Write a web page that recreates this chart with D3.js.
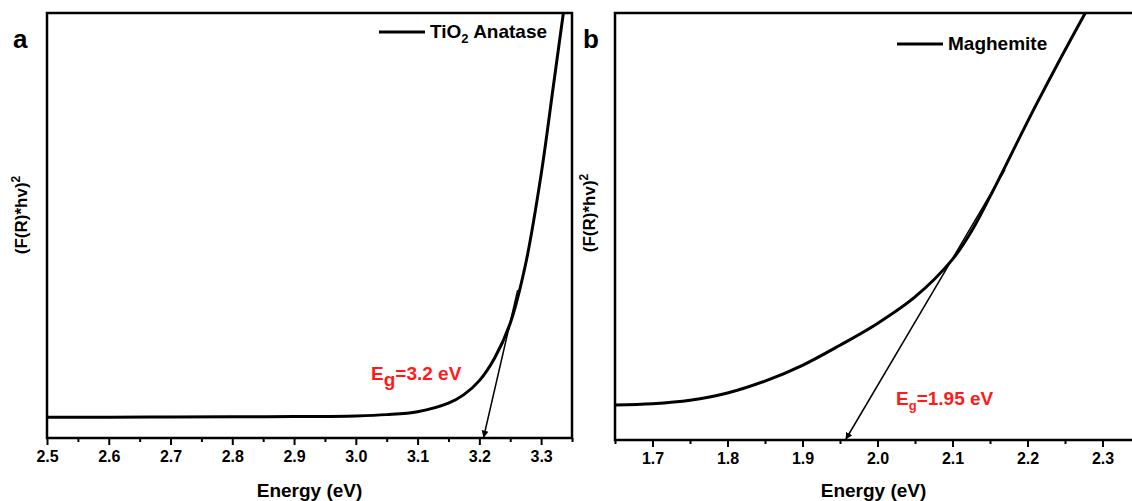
<!DOCTYPE html>
<html>
<head>
<meta charset="utf-8">
<script src="https://cdn.jsdelivr.net/npm/d3@7"></script>
<style>
  body { margin: 0; background: #fff; }
  svg text { font-family: "Liberation Sans", Arial, sans-serif; font-weight: bold; }
</style>
</head>
<body>
<div id="chart"></div>
<script>
// TiO2 anatase Tauc plot (energy in eV, signal in arbitrary units 0-100)
const tioEnergy = [2.50, 2.60, 2.70, 2.80, 2.90, 3.00, 3.05, 3.10, 3.15, 3.175, 3.20, 3.225, 3.25, 3.275, 3.30, 3.32, 3.336, 3.345];
const tioSignal = [4.9, 4.9, 4.95, 5.0, 5.05, 5.2, 5.5, 6.2, 8.2, 10.2, 13.5, 18.9, 27.0, 41.0, 62.0, 83.0, 100, 110];
const tioTangentE = [3.207, 3.262];
const tioTangentS = [0, 34.8];

// Maghemite Tauc plot
const magEnergy = [1.65, 1.70, 1.75, 1.80, 1.85, 1.90, 1.95, 2.00, 2.05, 2.10, 2.125, 2.15, 2.213, 2.277, 2.29];
const magSignal = [8.2, 8.5, 9.3, 11.0, 13.8, 17.5, 22.2, 27.3, 33.5, 42.3, 48.8, 57.0, 79.0, 100, 104];
const magTangentE = [1.958, 2.17];
const magTangentS = [0, 63.3];

const ticksA = [2.5, 2.6, 2.7, 2.8, 2.9, 3.0, 3.1, 3.2, 3.3];
const ticksB = [1.7, 1.8, 1.9, 2.0, 2.1, 2.2, 2.3];

const width = 1132, height = 501;

const svg = d3.select("#chart").append("svg")
  .attr("width", width)
  .attr("height", height);

svg.append("defs").append("marker")
  .attr("id", "arrow")
  .attr("viewBox", "0 0 10 10")
  .attr("refX", 9).attr("refY", 5)
  .attr("markerWidth", 7).attr("markerHeight", 8)
  .attr("markerUnits", "userSpaceOnUse")
  .attr("orient", "auto")
  .append("path")
  .attr("d", "M0,0 L10,5 L0,10 z")
  .attr("fill", "#000");

function panel(opt) {
  const x = d3.scaleLinear().domain(opt.xDomain).range([opt.left, opt.right]);
  const y = d3.scaleLinear().domain([0, 100]).range([opt.bottom, opt.top]);

  const g = svg.append("g");

  g.append("clipPath").attr("id", opt.id + "clip")
    .append("rect")
    .attr("x", opt.left).attr("y", opt.top)
    .attr("width", opt.right - opt.left).attr("height", opt.bottom - opt.top);

  // minor ticks
  const minor = d3.range(opt.xDomain[0], opt.xDomain[1] + 1e-9, 0.05)
    .filter(v => !opt.ticks.some(t => Math.abs(t - v) < 1e-6));
  g.append("g")
    .attr("transform", `translate(0,${opt.bottom})`)
    .call(d3.axisBottom(x).tickValues(minor).tickSize(4).tickFormat(""))
    .call(s => s.select(".domain").remove())
    .selectAll("line").attr("stroke-width", 2);

  // major ticks
  g.append("g")
    .attr("transform", `translate(0,${opt.bottom})`)
    .call(d3.axisBottom(x).tickValues(opt.ticks).tickSize(7).tickPadding(6).tickFormat(d3.format(".1f")))
    .call(s => s.select(".domain").remove())
    .call(s => s.selectAll("line").attr("stroke-width", 2))
    .call(s => s.selectAll("text")
      .attr("font-size", 16)
      .attr("font-family", "Liberation Sans, Arial, sans-serif")
      .attr("font-weight", "bold")
      .attr("fill", "#000"));

  // frame
  g.append("rect")
    .attr("x", opt.left).attr("y", opt.top)
    .attr("width", opt.right - opt.left).attr("height", opt.bottom - opt.top)
    .attr("fill", "none").attr("stroke", "#000").attr("stroke-width", 2.5);

  const line = d3.line().x(d => x(d[0])).y(d => y(d[1])).curve(d3.curveCatmullRom.alpha(0.5));

  g.append("path")
    .datum(d3.zip(opt.energy, opt.signal))
    .attr("clip-path", `url(#${opt.id}clip)`)
    .attr("d", line)
    .attr("fill", "none").attr("stroke", "#000").attr("stroke-width", 3);

  // tangent with arrow pointing to band gap
  g.append("line")
    .attr("x1", x(opt.tanE[1])).attr("y1", y(opt.tanS[1]))
    .attr("x2", x(opt.tanE[0])).attr("y2", y(opt.tanS[0]) - 1)
    .attr("stroke", "#000").attr("stroke-width", 1.5)
    .attr("marker-end", "url(#arrow)");

  // legend
  g.append("line")
    .attr("x1", opt.legX).attr("x2", opt.legX + 46)
    .attr("y1", opt.legY).attr("y2", opt.legY)
    .attr("stroke", "#000").attr("stroke-width", 3);
  const lt = g.append("text")
    .attr("x", opt.legX + 51).attr("y", opt.legY + 6)
    .attr("font-size", 19);
  opt.legend.forEach(p => lt.append("tspan")
    .attr("font-size", p.sub ? 13 : 19)
    .attr("dy", p.sub ? 5 : (p.after ? -5 : 0))
    .text(p.t));

  // band gap label
  const eg = g.append("text")
    .attr("x", opt.egX).attr("y", opt.egY)
    .attr("fill", "#ff1a1a").attr("font-size", 19);
  eg.append("tspan").text("E");
  eg.append("tspan").attr("font-size", opt.gSize).attr("dy", opt.gDy).text("g");
  eg.append("tspan").attr("dy", -opt.gDy).text("=" + opt.eg + " eV");

  // axis titles
  g.append("text")
    .attr("x", (opt.left + opt.axisRight) / 2).attr("y", 497)
    .attr("text-anchor", "middle").attr("font-size", 19)
    .text("Energy (eV)");

  const yl = g.append("text")
    .attr("transform", `translate(${opt.yLabX},${opt.yLabY}) rotate(-90)`)
    .attr("text-anchor", "middle").attr("font-size", 17);
  yl.append("tspan").text("(F(R)*hv)");
  yl.append("tspan").attr("font-size", 12).attr("dy", -7).text("2");

  // panel letter
  g.append("text")
    .attr("x", opt.letterX).attr("y", 48)
    .attr("font-family", "Open Sans, sans-serif")
    .attr("font-size", 26)
    .text(opt.letter);
}

panel({
  id: "a", letter: "a", letterX: 13,
  xDomain: [2.5, 3.35], left: 47, right: 572, axisRight: 572, top: 13, bottom: 438,
  ticks: ticksA, energy: tioEnergy, signal: tioSignal,
  tanE: tioTangentE, tanS: tioTangentS,
  legX: 379, legY: 32,
  legend: [{ t: "TiO" }, { t: "2", sub: true }, { t: " Anatase", after: true }],
  egX: 371, egY: 380, eg: "3.2", gSize: 19, gDy: 6,
  yLabX: 27, yLabY: 215
});

panel({
  id: "b", letter: "b", letterX: 583,
  xDomain: [1.65, 2.35], left: 615, right: 1140, axisRight: 1132, top: 13, bottom: 440,
  ticks: ticksB, energy: magEnergy, signal: magSignal,
  tanE: magTangentE, tanS: magTangentS,
  legX: 897, legY: 44,
  legend: [{ t: "Maghemite" }],
  egX: 896, egY: 405, eg: "1.95", gSize: 13, gDy: 5,
  yLabX: 595, yLabY: 213
});
</script>
</body>
</html>
